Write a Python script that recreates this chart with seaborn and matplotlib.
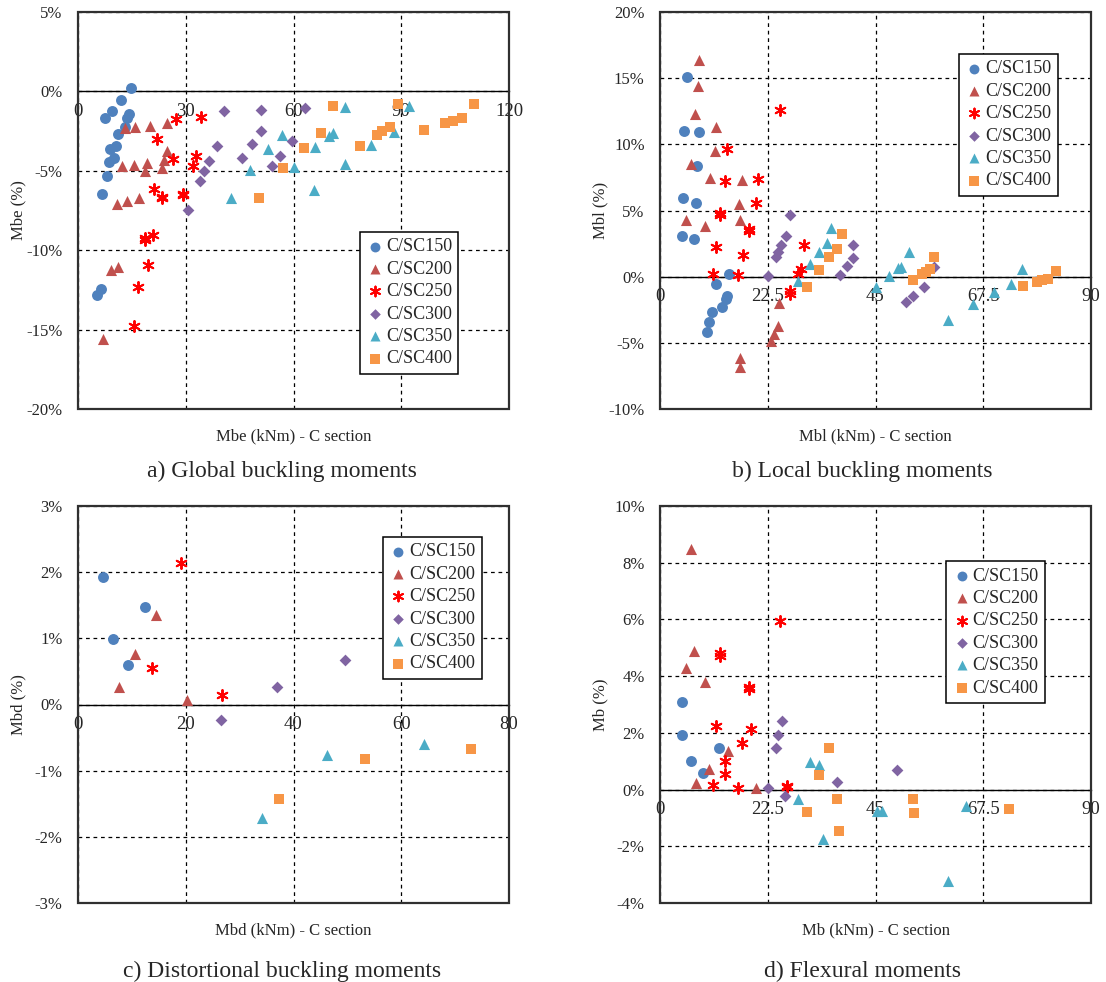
import matplotlib
matplotlib.use("Agg")
import matplotlib.pyplot as plt
import seaborn as sns
from matplotlib.ticker import PercentFormatter, FuncFormatter, MultipleLocator

sns.set_style("white")
plt.rcParams['font.family'] = ['Liberation Serif', 'DejaVu Serif']
plt.rcParams['axes.unicode_minus'] = False

series = ['C/SC150', 'C/SC200', 'C/SC250', 'C/SC300', 'C/SC350', 'C/SC400']

# a) global buckling moments (Mbe kNm, error %)
mbe_150_x = [14.7, 11.9, 9.5, 7.4, 14.1, 13.7, 13.1, 11.1, 10.6, 9.0, 9.9, 8.5, 8.0, 6.7, 6.5, 5.4]
mbe_150_y = [0.19, -0.56, -1.24, -1.66, -1.43, -1.68, -2.24, -2.70, -3.42, -3.63, -4.17, -4.46, -5.33, -6.45, -12.45, -12.8]
mbe_200_x = [13.0, 16.0, 20.0, 24.9, 24.8, 24.0, 12.3, 15.5, 19.3, 18.6, 23.3, 10.9, 13.7, 17.0, 9.1, 11.2, 7.0]
mbe_200_y = [-2.32, -2.26, -2.16, -2.01, -3.78, -4.34, -4.71, -4.63, -4.48, -5.04, -4.85, -7.10, -6.89, -6.72, -11.25, -11.06, -15.6]
mbe_250_x = [27.4, 34.3, 21.9, 32.9, 26.5, 31.9, 21.1, 23.4, 23.5, 29.1, 29.2, 18.7, 18.6, 21.0, 19.4, 16.8, 15.5]
mbe_250_y = [-1.76, -1.62, -3.01, -4.09, -4.23, -4.69, -6.16, -6.62, -6.72, -6.43, -6.54, -9.23, -9.38, -9.03, -10.94, -12.31, -14.76]
mbe_300_x = [40.6, 50.9, 63.1, 50.9, 59.7, 38.7, 48.4, 36.6, 45.6, 56.2, 53.9, 35.1, 33.9, 30.6]
mbe_300_y = [-1.22, -1.14, -1.02, -2.47, -3.15, -3.46, -3.30, -4.36, -4.21, -4.05, -4.67, -5.04, -5.62, -7.47]
mbe_350_x = [74.3, 92.2, 56.8, 71.1, 69.8, 87.9, 66.0, 81.6, 52.8, 48.0, 60.0, 74.3, 65.8, 42.7]
mbe_350_y = [-0.98, -0.89, -2.74, -2.63, -2.84, -2.53, -3.51, -3.38, -3.65, -4.96, -4.77, -4.56, -6.24, -6.74]
mbe_400_x = [70.9, 89.0, 110.2, 96.4, 102.2, 104.3, 106.9, 67.7, 86.8, 84.7, 83.2, 78.6, 62.9, 57.1, 50.4]
mbe_400_y = [-0.89, -0.81, -0.79, -2.43, -2.01, -1.85, -1.68, -2.59, -2.22, -2.51, -2.74, -3.42, -3.55, -4.85, -6.72]

# b) local buckling moments
mbl_150_x = [5.6, 5.1, 8.1, 7.8, 4.9, 7.5, 4.5, 7.2, 14.5, 11.7, 13.9, 13.7, 12.9, 10.9, 10.3, 9.9]
mbl_150_y = [15.1, 11.0, 10.9, 8.34, 5.95, 5.55, 3.06, 2.81, 0.23, -0.55, -1.43, -1.65, -2.26, -2.68, -3.43, -4.16]
mbl_200_x = [8.1, 7.9, 7.3, 11.7, 11.4, 6.4, 10.4, 17.2, 16.6, 5.4, 9.3, 16.8, 24.9, 24.7, 23.9, 23.1, 16.8, 16.8]
mbl_200_y = [16.4, 14.4, 12.3, 11.3, 9.47, 8.52, 7.46, 7.31, 5.48, 4.29, 3.81, 4.29, -2.0, -3.73, -4.31, -4.86, -6.12, -6.79]
mbl_250_x = [25.1, 13.9, 13.6, 20.5, 20.1, 12.5, 12.5, 18.5, 18.5, 11.7, 17.3, 30.1, 11.1, 16.2, 29.5, 28.9, 27.1, 27.1]
mbl_250_y = [12.6, 9.62, 7.24, 7.39, 5.53, 4.84, 4.66, 3.63, 3.48, 2.21, 1.63, 2.38, 0.20, 0.10, 0.60, 0.18, -1.10, -1.28]
mbl_300_x = [27.2, 26.3, 25.3, 24.6, 24.2, 22.6, 40.4, 40.4, 39.1, 37.5, 57.3, 55.2, 52.9, 51.4]
mbl_300_y = [4.66, 3.06, 2.38, 1.88, 1.45, 0.05, 2.36, 1.38, 0.80, 0.10, 0.75, -0.80, -1.48, -1.93]
mbl_350_x = [35.7, 34.8, 33.2, 31.3, 28.9, 51.9, 50.3, 49.8, 47.9, 45.0, 60.2, 65.4, 69.8, 73.2, 75.6]
mbl_350_y = [3.68, 2.53, 1.85, 0.95, -0.35, 1.90, 0.75, 0.63, 0.08, -0.78, -3.26, -2.03, -1.15, -0.55, 0.58]
mbl_400_x = [38.0, 37.0, 35.2, 33.1, 30.6, 57.3, 56.3, 55.5, 54.8, 52.9, 75.8, 78.7, 79.8, 81.1, 82.7]
mbl_400_y = [3.23, 2.08, 1.45, 0.53, -0.80, 1.50, 0.55, 0.38, 0.23, -0.28, -0.70, -0.38, -0.25, -0.15, 0.43]

# c) distortional buckling moments
mbd_150_x = [4.7, 12.5, 6.5, 9.2]
mbd_150_y = [1.92, 1.48, 0.99, 0.59]
mbd_200_x = [14.5, 10.5, 7.7, 20.2]
mbd_200_y = [1.36, 0.76, 0.26, 0.07]
mbd_250_x = [19.2, 13.8, 26.7]
mbd_250_y = [2.14, 0.55, 0.15]
mbd_300_x = [49.5, 37.0, 26.5]
mbd_300_y = [0.68, 0.27, -0.24]
mbd_350_x = [46.3, 64.2, 34.1]
mbd_350_y = [-0.76, -0.59, -1.72]
mbd_400_x = [53.2, 73.0, 37.4]
mbd_400_y = [-0.82, -0.68, -1.43]

# d) flexural moments
mb_150_x = [4.5, 4.6, 6.5, 12.4, 9.0]
mb_150_y = [3.08, 1.94, 0.99, 1.47, 0.59]
mb_200_x = [6.4, 7.2, 5.4, 9.3, 14.3, 10.3, 7.6, 20.0]
mb_200_y = [8.49, 4.89, 4.27, 3.81, 1.36, 0.74, 0.24, 0.06]
mb_250_x = [25.1, 12.5, 12.5, 18.5, 18.5, 11.7, 19.1, 17.2, 13.6, 13.6, 11.1, 16.2, 26.5, 26.5]
mb_250_y = [5.96, 4.81, 4.71, 3.62, 3.53, 2.24, 2.15, 1.65, 1.02, 0.55, 0.16, 0.06, 0.14, 0.09]
mb_300_x = [25.4, 24.7, 24.2, 37.0, 49.5, 22.6, 26.2]
mb_300_y = [2.41, 1.91, 1.47, 0.27, 0.68, 0.06, -0.24]
mb_350_x = [31.3, 33.2, 28.9, 45.4, 46.4, 34.0, 64.0, 60.2]
mb_350_y = [0.96, 0.86, -0.35, -0.76, -0.76, -1.73, -0.59, -3.22]
mb_400_x = [35.2, 33.1, 36.9, 30.6, 37.3, 52.9, 53.1, 72.9]
mb_400_y = [1.47, 0.53, -0.33, -0.80, -1.45, -0.35, -0.82, -0.67]

colors = ['#4F81BD', '#C0504D', '#FF0000', '#8064A2', '#4BACC6', '#F79646']
ASTERISK = (6, 2, 0)
markers = ['o', '^', ASTERISK, 'D', '^', 's']
sizes = [62, 64, 62, 36, 64, 54]


def draw_panel(ax, xs, ys, xlim, xstep, ylim, ystep, xlabel, ylabel, leg_pos):
    for name, x, y, c, m, s in zip(series, xs, ys, colors, markers, sizes):
        lw = 1.4 if m == ASTERISK else 0
        sns.scatterplot(x=x, y=y, color=c, marker=m, s=s, linewidth=lw,
                        label=name, ax=ax, zorder=3)
    ax.set_xlim(*xlim)
    ax.set_ylim(*ylim)
    ax.xaxis.set_major_locator(MultipleLocator(xstep))
    ax.yaxis.set_major_locator(MultipleLocator(ystep))
    ax.yaxis.set_major_formatter(PercentFormatter(100, decimals=0))
    ax.xaxis.set_major_formatter(FuncFormatter(lambda v, p: f'{v:g}'))
    ax.grid(True, ls=(0, (3, 3)), color='black', lw=0.9)
    ax.set_axisbelow(True)

    # x axis crosses at 0, outer frame drawn separately
    for side in ['top', 'right', 'left']:
        ax.spines[side].set_visible(False)
    ax.spines['bottom'].set_position(('data', 0))
    ax.spines['bottom'].set_color('black')
    ax.spines['bottom'].set_linewidth(1.0)
    ax.add_patch(plt.Rectangle((0, 0), 1, 1, transform=ax.transAxes, fill=False,
                               ec='#303030', lw=1.6, clip_on=False, zorder=5))

    ax.tick_params(axis='x', length=0, labelsize=13.5, pad=8)
    ax.tick_params(axis='y', length=0, labelsize=12, pad=11)
    ax.set_xlabel(xlabel, fontsize=12, va='baseline')
    ax.xaxis.set_label_coords(0.5, -0.079)
    ax.set_ylabel(ylabel, fontsize=12)
    ax.yaxis.set_label_coords(-0.12, 0.5)

    ax.legend(loc='upper left', bbox_to_anchor=leg_pos, fontsize=13,
              frameon=True, fancybox=False, edgecolor='black', framealpha=1,
              borderpad=0.35, labelspacing=0.3, handletextpad=0.1,
              handlelength=1.0, markerscale=0.9, borderaxespad=0)
    ax.get_legend().get_frame().set_linewidth(1.1)


fig = plt.figure(figsize=(11.06, 9.82), dpi=100)
W, H = 1106, 982


def add_ax(left, top, right, bottom):
    return fig.add_axes([left / W, 1 - bottom / H, (right - left) / W, (bottom - top) / H])


ax_a = add_ax(78, 12, 509, 409)
ax_b = add_ax(660, 12, 1091, 409)
ax_c = add_ax(78, 506, 509, 903)
ax_d = add_ax(660, 506, 1091, 903)

draw_panel(ax_a,
           [mbe_150_x, mbe_200_x, mbe_250_x, mbe_300_x, mbe_350_x, mbe_400_x],
           [mbe_150_y, mbe_200_y, mbe_250_y, mbe_300_y, mbe_350_y, mbe_400_y],
           (0, 120), 30, (-20, 5), 5, 'Mbe (kNm) - C section', 'Mbe (%)', (0.654, 0.446))
draw_panel(ax_b,
           [mbl_150_x, mbl_200_x, mbl_250_x, mbl_300_x, mbl_350_x, mbl_400_x],
           [mbl_150_y, mbl_200_y, mbl_250_y, mbl_300_y, mbl_350_y, mbl_400_y],
           (0, 90), 22.5, (-10, 20), 5, 'Mbl (kNm) - C section', 'Mbl (%)', (0.694, 0.894))
draw_panel(ax_c,
           [mbd_150_x, mbd_200_x, mbd_250_x, mbd_300_x, mbd_350_x, mbd_400_x],
           [mbd_150_y, mbd_200_y, mbd_250_y, mbd_300_y, mbd_350_y, mbd_400_y],
           (0, 80), 20, (-3, 3), 1, 'Mbd (kNm) - C section', 'Mbd (%)', (0.708, 0.922))
draw_panel(ax_d,
           [mb_150_x, mb_200_x, mb_250_x, mb_300_x, mb_350_x, mb_400_x],
           [mb_150_y, mb_200_y, mb_250_y, mb_300_y, mb_350_y, mb_400_y],
           (0, 90), 22.5, (-4, 10), 2, 'Mb (kNm) - C section', 'Mb (%)', (0.664, 0.861))

captions = ['a) Global buckling moments', 'b) Local buckling moments',
            'c) Distortional buckling moments', 'd) Flexural moments']
cap_pos = [(282, 477), (862, 477), (282, 977), (862, 977)]
for text, (px, py) in zip(captions, cap_pos):
    fig.text(px / W, 1 - py / H, text, ha='center', va='baseline', fontsize=17)

fig.savefig('out.png', dpi=100)
